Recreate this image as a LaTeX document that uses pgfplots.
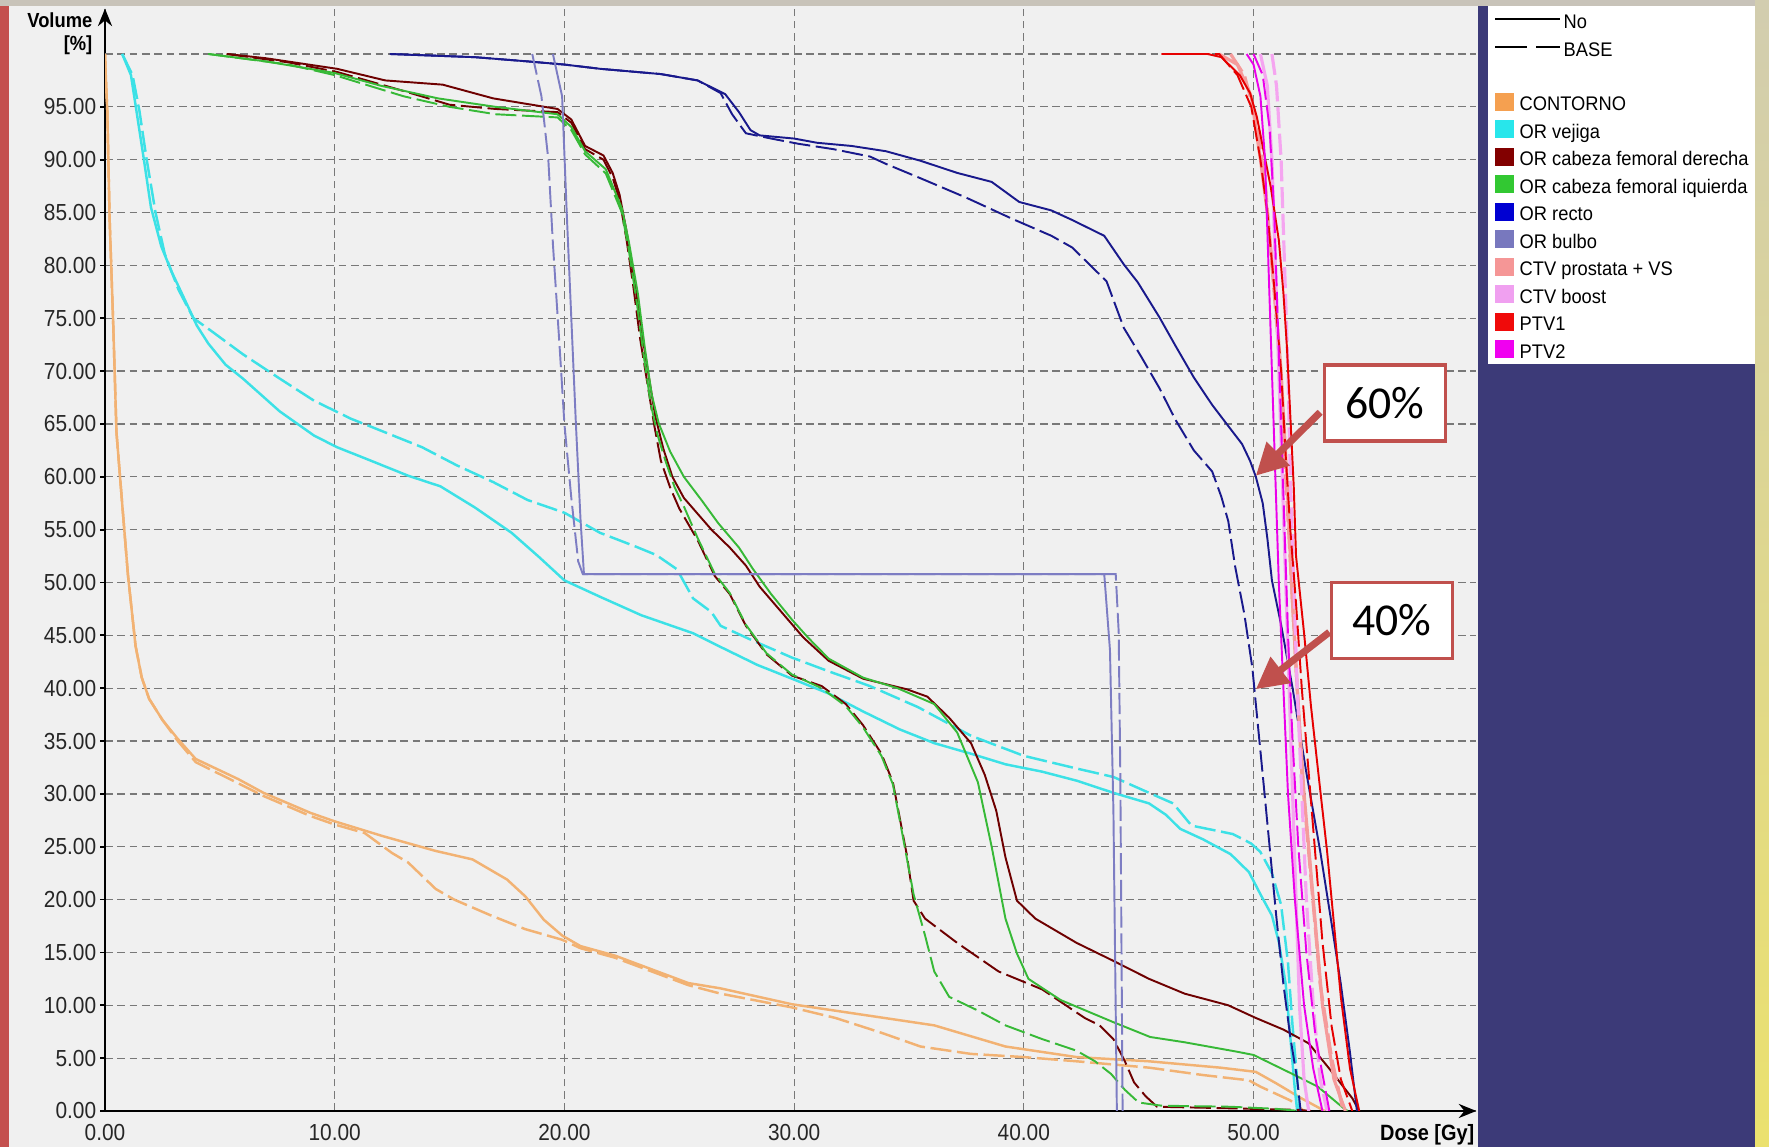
\documentclass[border=0pt]{standalone}
\usepackage{pgfplots}
\pgfplotsset{compat=1.18}
\usetikzlibrary{arrows.meta}
\usepackage{fontspec}
\setmainfont{Liberation Sans}[FakeStretch=0.9]
\newfontfamily\legfont{Liberation Sans}[FakeStretch=0.93]
\newfontfamily\annfont{Carlito}

\definecolor{cont}{RGB}{242,178,115}
\definecolor{vej}{RGB}{60,225,230}
\definecolor{fder}{RGB}{110,0,0}
\definecolor{fizq}{RGB}{55,185,55}
\definecolor{recto}{RGB}{25,25,140}
\definecolor{bulbo}{RGB}{125,125,195}
\definecolor{ctvp}{RGB}{245,155,155}
\definecolor{ctvb}{RGB}{245,165,240}
\definecolor{ptvone}{RGB}{230,0,0}
\definecolor{ptvtwo}{RGB}{235,0,235}
\definecolor{annred}{RGB}{192,80,77}
\definecolor{panel}{RGB}{240,240,240}
\definecolor{navy}{RGB}{60,58,120}
\definecolor{gridc}{RGB}{120,120,120}
\definecolor{topstrip}{RGB}{200,195,185}
\definecolor{leftstrip}{RGB}{196,80,78}
\definecolor{rstriptop}{RGB}{210,205,175}
\definecolor{rstripbot}{RGB}{235,225,110}
\definecolor{lgA}{RGB}{245,160,80}
\definecolor{lgB}{RGB}{40,230,235}
\definecolor{lgC}{RGB}{130,0,0}
\definecolor{lgD}{RGB}{50,200,50}
\definecolor{lgE}{RGB}{0,0,210}
\definecolor{lgF}{RGB}{120,120,190}
\definecolor{lgG}{RGB}{245,150,150}
\definecolor{lgH}{RGB}{240,160,240}
\definecolor{lgI}{RGB}{240,10,10}
\definecolor{lgJ}{RGB}{240,0,240}

\begin{document}
\begin{tikzpicture}
% backgrounds
\fill[topstrip] (0,0) rectangle (17.69,11.47);
\fill[panel] (0.09,0) rectangle (14.78,11.41);
\fill[leftstrip] (0,0) rectangle (0.09,11.41);
\fill[navy] (14.78,0) rectangle (17.55,11.41);
\fill[white] (14.88,7.83) rectangle (17.55,11.41);
\shade[top color=rstriptop, bottom color=rstripbot] (17.55,0) rectangle (17.69,11.47);

\begin{axis}[
  at={(1.05cm,0.36cm)}, anchor=south west,
  x=0.2297cm, y=0.1057cm,
  xmin=0, xmax=59.7, ymin=0, ymax=104.3,
  axis lines=left,
  x axis line style={black, line width=0.7pt, -{Stealth[length=5pt,width=4pt]}},
  y axis line style={black, line width=0.7pt, -{Stealth[length=5pt,width=4pt]}},
  xtick={0,10,...,50}, ytick={0,5,...,95},
  extra y ticks={100}, extra y tick labels={},
  extra y tick style={major tick length=0pt},
  grid=major,
  major grid style={dash pattern=on 2.2pt off 1.3pt, draw=gridc, line width=0.35pt},
  tick align=outside,
  xtick style={draw=none},
  ytick style={black, line width=0.5pt},
  major tick length=1.3pt,
  ticklabel style={font=\fontsize{6.6pt}{7pt}\selectfont, text=black!85},
  yticklabel style={inner sep=1pt},
  xticklabel style={inner sep=1pt, yshift=-0.05cm},
  /pgf/number format/.cd, fixed, fixed zerofill, precision=2, assume math mode=true,
]
\pgfplotsset{every axis plot/.append style={line width=0.55pt}}
% CONTORNO
\addplot[cont, line width=0.7pt] coordinates {(0,100) (0.05,97) (0.1,94.6) (0.2,84.5) (0.36,74.3) (0.5,64.2) (0.75,57.4) (1.0,50.7) (1.33,44) (1.6,41) (1.92,39) (2.5,37) (3.17,35.2) (3.95,33.3) (5.8,31.4) (6.9,30.1) (8.95,28.2) (10,27.4) (12.1,26.0) (14.4,24.6) (16.0,23.8) (17.5,21.9) (18.3,20.3) (19.1,18.1) (19.9,16.6) (20.7,15.6) (22.2,14.7) (23.8,13.4) (25.4,12.1) (26.8,11.6) (29.9,10.1) (33.0,9.1) (36.1,8.1) (39.2,6.1) (42.3,5.1) (45.45,4.7) (48.55,4.1) (50.1,3.7) (51.0,2.6) (52.0,1.3) (53.1,0)};
\addplot[cont, line width=0.7pt, dash pattern=on 6pt off 1.6pt] coordinates {(0,100) (0.05,97) (0.1,94.6) (0.2,84.5) (0.36,74.3) (0.5,64.2) (0.75,57.4) (1.0,50.7) (1.33,44) (1.6,41) (1.92,39) (2.5,37) (3.17,35.0) (3.95,33.0) (5.8,31.0) (6.9,29.8) (8.95,27.9) (10,27.1) (11.3,26.3) (12.5,24.4) (13.2,23.5) (14.4,21.0) (15.2,20.0) (16.8,18.5) (18.3,17.2) (19.9,16.2) (20.7,15.4) (22.2,14.5) (23.8,13.2) (25.4,11.9) (26.8,11.1) (29.9,9.8) (31.8,8.8) (33.8,7.4) (35.5,6.1) (37.7,5.4) (40.0,5.1) (42.3,4.7) (45.45,4.1) (47.8,3.4) (49.8,2.9) (50.3,2.3) (51.6,1.0) (52.2,0)};
% OR vejiga
\addplot[vej, line width=0.7pt] coordinates {(0.75,100) (1.13,98) (1.37,94.6) (1.68,90.2) (2.0,85.5) (2.45,81.8) (2.9,79.4) (3.55,76.4) (4.0,74.3) (4.5,72.6) (5.25,70.6) (6.0,69.3) (7.6,66.2) (9.1,63.9) (10.1,62.8) (11.6,61.5) (13.2,60.1) (14.6,59.1) (16.1,57.1) (17.7,54.7) (18.9,52.4) (20.0,50.2) (21.6,48.6) (23.35,46.9) (25.6,45.2) (26.8,43.9) (28.4,42.2) (29.9,40.9) (31.5,39.5) (33.0,37.8) (34.6,36.1) (36.1,34.8) (37.7,33.8) (39.2,32.8) (40.8,32.1) (42.3,31.25) (43.9,30.1) (45.45,29.1) (46.2,28.0) (46.8,26.7) (47.8,25.7) (49.0,24.3) (49.8,22.6) (50.3,20.5) (50.8,18.5) (51.1,16) (51.4,12) (51.6,7) (51.8,2) (51.9,0)};
\addplot[vej, line width=0.7pt, dash pattern=on 6pt off 1.6pt] coordinates {(0.75,100) (1.2,98) (1.5,94.6) (1.8,90.2) (2.2,85) (2.6,81.1) (3.2,77.7) (3.85,75.0) (4.5,74.0) (6.0,71.6) (7.6,69.3) (9.1,67.2) (10.7,65.5) (12.2,64.2) (13.8,62.8) (15.3,61.1) (16.9,59.5) (18.4,57.8) (20.0,56.6) (21.55,54.7) (23.1,53.4) (24.0,52.6) (24.9,51.25) (25.6,48.5) (26.4,47.2) (26.8,45.9) (28.1,44.6) (29.9,42.9) (31.5,41.6) (33.3,40.2) (35.4,38.2) (37.7,35.5) (40.0,33.6) (42.3,32.4) (43.9,31.6) (45.45,30.1) (46.5,29.1) (47.3,27.0) (49.1,26.2) (49.9,25.3) (50.3,24.5) (50.8,22.5) (51.2,19.5) (51.5,14) (51.7,8) (51.9,3) (52.0,0)};
% OR cabeza femoral derecha
\addplot[fder] coordinates {(5.3,100) (7,99.6) (10.1,98.6) (12.2,97.5) (14.7,97.1) (16.9,95.8) (19.7,94.8) (20.3,93.8) (20.9,91.3) (21.7,90.4) (22.1,88.75) (22.4,86.7) (22.7,83.3) (23.05,78.6) (23.35,73.9) (23.65,69.8) (23.95,65.8) (24.3,62.7) (24.7,60.0) (25.2,58.0) (25.8,56.5) (26.4,55.0) (27.2,53.3) (27.9,51.6) (28.5,49.6) (29.45,47.2) (30.4,44.8) (31.5,42.6) (33.0,40.9) (34.9,39.9) (35.8,39.2) (36.75,37.2) (37.7,34.8) (38.3,31.8) (38.8,28.4) (39.2,24) (39.7,19.9) (40.5,18.2) (42.3,15.9) (43.9,14.2) (45.45,12.5) (47.0,11.1) (48.9,10.0) (50.1,8.8) (51.3,7.7) (52.4,6.4) (53.3,4.0) (54.3,1.2) (54.6,0)};
\addplot[fder, dash pattern=on 6pt off 1.6pt] coordinates {(5.3,100) (8,99.2) (10.1,98.3) (13,96.5) (15,95.2) (17,94.8) (19.7,94.5) (20.3,93.5) (20.9,91.0) (21.7,90.0) (22.1,88.3) (22.4,86.2) (22.7,82.5) (23.0,78.0) (23.3,73.0) (23.6,69.0) (23.9,65.0) (24.2,61.5) (24.6,59.0) (25.0,57.0) (25.8,54.0) (26.55,50.6) (27.2,48.9) (27.9,45.9) (28.8,43.2) (29.9,41.2) (31.2,40.2) (32.25,38.5) (33.0,36.5) (33.8,33.8) (34.3,31.1) (34.6,27.7) (34.9,24.3) (35.2,19.9) (35.7,18.2) (37.1,15.9) (38.9,13.2) (40.8,11.5) (42.65,8.8) (43.3,8.1) (43.9,6.8) (44.4,4.7) (44.8,2.7) (45.3,1.4) (45.8,0.4) (48,0.3) (50,0.2) (52,0.1) (52.5,0)};
% OR cabeza femoral izquierda
\addplot[fizq] coordinates {(4.5,100) (7,99.3) (10,98.2) (12,97) (14.5,95.8) (17,95) (19.7,94.3) (20.3,93.1) (20.9,90.8) (21.8,89.1) (22.5,85.4) (22.8,82.3) (23.2,77.3) (23.5,72.2) (23.8,67.8) (24.1,65.1) (24.6,62.4) (25.2,60) (26.0,57.7) (26.7,55.6) (27.6,53.3) (28.2,51.3) (29.0,48.9) (29.9,46.5) (30.6,44.8) (31.5,42.8) (33,41.0) (34.5,40.0) (36.1,38.5) (37.1,35.8) (38.0,31.1) (38.6,25) (39.2,18.2) (39.7,14.9) (40.2,12.5) (41.6,10.5) (43.9,8.4) (45.5,7.0) (47,6.5) (49.3,5.6) (50,5.3) (51.6,3.6) (52.8,2.3) (53.9,0.3) (54.1,0)};
\addplot[fizq, dash pattern=on 6pt off 1.6pt] coordinates {(4.5,100) (8,99) (10,98) (13,96) (15,95) (17,94.3) (19.7,94.0) (20.3,92.8) (20.9,90.5) (21.8,88.7) (22.5,85.0) (22.8,81.5) (23.15,76.5) (23.45,71.5) (23.75,67.0) (24.05,64.0) (24.4,61.5) (24.8,59.0) (25.2,57.2) (25.8,54.2) (26.55,50.8) (27.2,49.0) (27.9,46.0) (28.8,43.3) (29.9,41.3) (31.2,40.0) (32.25,38.3) (33.0,36.3) (33.8,33.6) (34.3,30.9) (34.6,27.5) (34.9,24.0) (35.2,20.5) (35.7,16.6) (36.1,13.2) (36.75,10.8) (38.0,9.5) (39.2,8.1) (40.8,6.8) (42.3,5.7) (43.1,4.7) (43.8,3.5) (44.4,2.0) (45.0,0.8) (46,0.5) (49,0.4) (51,0.2) (52,0)};
% OR recto
\addplot[recto] coordinates {(12.4,100) (16.1,99.7) (18.4,99.3) (20.0,99.0) (21.55,98.6) (24.2,98.1) (25.8,97.5) (27.0,96.2) (27.6,94.5) (28.1,92.8) (28.5,92.3) (30,92.0) (31,91.6) (32.5,91.3) (34,90.8) (35.5,89.9) (37.1,88.75) (38.6,87.9) (39.8,86.0) (41.2,85.2) (42.1,84.3) (43.5,82.8) (44.35,80.1) (44.96,78.4) (45.9,75.1) (46.6,72.4) (47.4,69.4) (48.2,66.8) (48.9,64.8) (49.5,63.1) (49.85,61.5) (50.1,60) (50.4,57.5) (50.6,54.2) (50.8,50.2) (51.2,46) (51.7,40) (52.3,32) (52.9,24.6) (53.4,17.7) (53.8,12) (54.2,5.5) (54.5,0)};
\addplot[recto, dash pattern=on 6pt off 1.6pt] coordinates {(12.4,100) (16.1,99.7) (18.4,99.3) (20.0,99.0) (21.55,98.6) (24.2,98.1) (25.8,97.5) (26.8,96.3) (27.3,94.3) (27.9,92.5) (29.0,92.0) (30.2,91.5) (31.7,91.0) (33.3,90.3) (34.0,89.6) (35.55,88.2) (37.5,86.4) (39.5,84.4) (41.2,82.8) (42.1,81.7) (43.6,78.5) (44.35,74.1) (45.1,71.4) (45.9,68.4) (46.6,65.4) (47.4,62.5) (48.2,60.5) (48.6,58.1) (48.9,55.8) (49.2,51.5) (49.6,47) (49.95,41.9) (50.1,38.5) (50.4,31.8) (50.7,25) (51.0,18.2) (51.3,12) (51.6,7) (51.9,3) (52.05,0)};
% OR bulbo
\addplot[bulbo] coordinates {(19.5,100) (19.9,96) (20.1,85) (20.3,75) (20.5,65) (20.7,56) (20.85,50.8) (43.5,50.8) (43.75,43.6) (43.9,28.4) (44.05,0)};
\addplot[bulbo, dash pattern=on 6pt off 1.6pt] coordinates {(18.6,100) (19.0,96) (19.3,90) (19.5,82) (19.8,72) (20.0,65) (20.3,58) (20.6,52) (20.8,50.8) (44.0,50.8) (44.13,45.3) (44.2,31.8) (44.3,0)};
% CTV prostata + VS
\addplot[ctvp, line width=0.9pt] coordinates {(48.5,100) (49.3,99) (49.9,96) (50.3,90) (50.6,85) (50.9,78) (51.2,70) (51.45,60) (51.65,50) (51.9,40) (52.2,30) (52.6,20) (53.0,10) (53.5,3) (54.0,0)};
\addplot[ctvp, line width=0.9pt, dash pattern=on 6pt off 1.6pt] coordinates {(49.0,100) (49.6,98) (50.1,94) (50.5,88) (50.8,80) (51.1,72) (51.35,62) (51.6,52) (51.85,42) (52.1,32) (52.5,22) (52.9,12) (53.4,5) (53.9,0)};
% CTV boost
\addplot[ctvb, line width=0.9pt] coordinates {(50.3,100) (50.6,97) (50.8,90) (50.95,80) (51.1,70) (51.25,60) (51.4,50) (51.55,40) (51.7,30) (51.85,20) (52.0,10) (52.2,3) (52.4,0)};
\addplot[ctvb, line width=0.9pt, dash pattern=on 6pt off 1.6pt] coordinates {(50.8,100) (51.0,97) (51.2,90) (51.35,80) (51.5,70) (51.6,60) (51.75,50) (51.9,40) (52.1,30) (52.3,20) (52.6,10) (52.9,3) (53.2,0)};
% PTV1
\addplot[ptvone] coordinates {(46.0,100) (48.0,100) (48.6,99.7) (49.4,98) (49.85,96.3) (50.15,94) (50.45,90.7) (50.75,87.4) (51.1,82.4) (51.3,77.4) (51.45,72.4) (51.6,65.8) (51.75,59.1) (51.85,52.5) (52.2,45.2) (52.5,38.3) (52.85,31.4) (53.2,24.6) (53.5,17.7) (53.8,10.8) (54.2,4.0) (54.6,0)};
\addplot[ptvone, dash pattern=on 6pt off 1.6pt] coordinates {(46.0,100) (48.5,100) (49.3,98) (49.9,95) (50.3,90) (50.6,85) (50.9,78) (51.2,70) (51.4,62) (51.6,55) (51.85,48) (52.1,40) (52.4,32) (52.7,24) (53.0,16) (53.4,8) (53.8,3) (54.3,0)};
% PTV2
\addplot[ptvtwo] coordinates {(49.7,100) (50.0,99) (50.3,96) (50.5,90) (50.65,80) (50.8,70) (50.95,60) (51.1,50) (51.3,40) (51.5,30) (51.8,20) (52.2,10) (52.6,4) (53.0,0)};
\addplot[ptvtwo, dash pattern=on 6pt off 1.6pt] coordinates {(50.0,100) (50.4,98) (50.7,93) (50.9,85) (51.05,75) (51.2,65) (51.35,55) (51.5,45) (51.7,35) (51.95,25) (52.3,15) (52.7,7) (53.3,0)};

% annotations
\draw[annred, line width=2pt, -{Triangle[length=9pt,width=9pt]}] (axis cs:52.9,66.1) -- (axis cs:50.1,60.1);
\draw[annred, line width=2pt, -{Triangle[length=9pt,width=9pt]}] (axis cs:53.3,45.3) -- (axis cs:50.1,39.9);
\node[draw=annred, line width=1.1pt, fill=white, minimum width=1.21cm, minimum height=0.76cm, inner sep=0pt, font=\annfont\fontsize{13pt}{15pt}\selectfont] at (axis cs:55.72,67.0) {60\%};
\node[draw=annred, line width=1.1pt, fill=white, minimum width=1.21cm, minimum height=0.76cm, inner sep=0pt, font=\annfont\fontsize{13pt}{15pt}\selectfont] at (axis cs:56.03,46.4) {40\%};
\end{axis}

% axis titles
\node[anchor=mid east, inner sep=0pt, font=\bfseries\fontsize{5.8pt}{6pt}\selectfont] at (0.93,11.29) {Volume};
\node[anchor=mid east, inner sep=0pt, font=\bfseries\fontsize{5.8pt}{6pt}\selectfont] at (0.93,11.06) {[\%]};
\node[anchor=mid east, inner sep=0pt, font=\bfseries\fontsize{6.3pt}{6.5pt}\selectfont] at (14.75,0.16) {Dose [Gy]};

% legend
\begin{scope}[font=\legfont\fontsize{5.6pt}{6pt}\selectfont]
\draw[black, line width=0.5pt] (14.95,11.28) -- (15.60,11.28);
\node[anchor=mid west, inner sep=0pt] at (15.63,11.28) {No};
\draw[black, line width=0.5pt] (14.95,11.00) -- (15.27,11.00) (15.36,11.00) -- (15.60,11.00);
\node[anchor=mid west, inner sep=0pt] at (15.63,11.00) {BASE};
\foreach \c/\t [count=\i from 0] in {
  lgA/CONTORNO,
  lgB/OR vejiga,
  lgC/OR cabeza femoral derecha,
  lgD/OR cabeza femoral iquierda,
  lgE/OR recto,
  lgF/OR bulbo,
  lgG/CTV prostata + VS,
  lgH/CTV boost,
  lgI/PTV1,
  lgJ/PTV2}{
  \pgfmathsetmacro{\yy}{10.453-0.275*\i}
  \fill[\c] (14.95,\yy-0.09) rectangle (15.14,\yy+0.09);
  \node[anchor=mid west, inner sep=0pt] at (15.19,\yy) {\t};
}
\end{scope}

\pgfresetboundingbox
\path[use as bounding box] (0,0) rectangle (17.69,11.47);
\end{tikzpicture}
\end{document}
